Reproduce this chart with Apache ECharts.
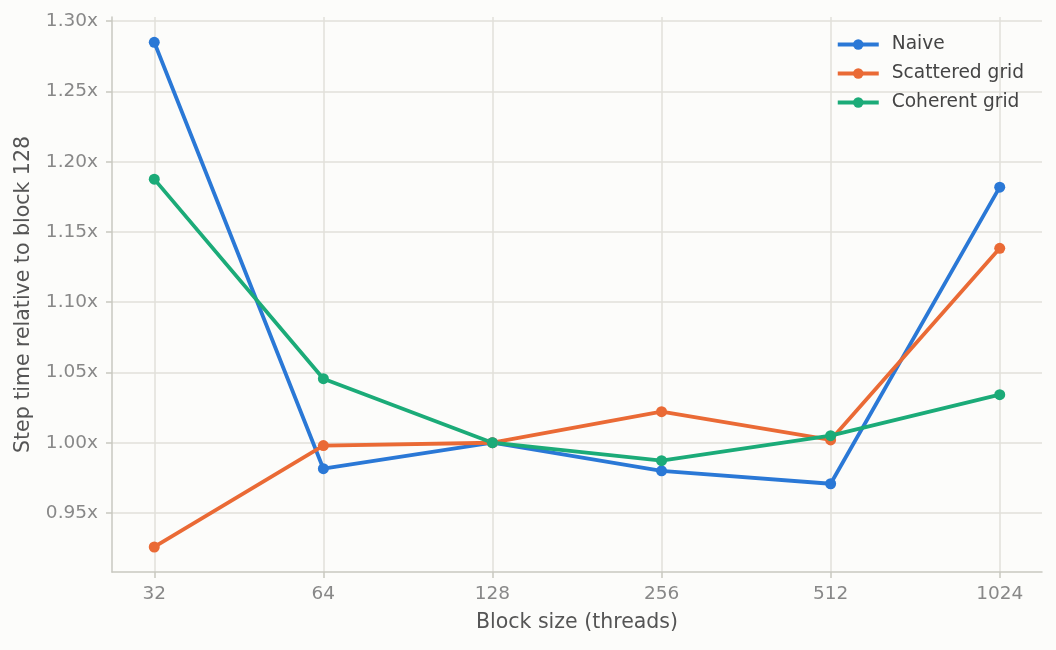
<!DOCTYPE html>
<html>
<head>
<meta charset="utf-8">
<script src="https://cdn.jsdelivr.net/npm/echarts@6/dist/echarts.min.js"></script>
<style>
  html, body { margin: 0; padding: 0; background: #fcfcfa; }
  #chart { width: 1056px; height: 650px; }
</style>
</head>
<body>
<div id="chart"></div>
<script>
// block sizes (threads)
var blockSizes = ['32', '64', '128', '256', '512', '1024'];
// step time relative to block 128
var naive = [1.285, 0.9815, 1.000, 0.980, 0.9708, 1.1819];
var scattered = [0.9258, 0.998, 1.000, 1.0221, 1.002, 1.1384];
var coherent = [1.1876, 1.0456, 1.000, 0.9872, 1.005, 1.0342];
var yTicks = [0.95, 1.00, 1.05, 1.10, 1.15, 1.20, 1.25, 1.30];

var font = 'DejaVu Sans';
var xIdx = blockSizes.map(function (b, i) { return i; });

function pairs(vals) {
    return vals.map(function (v, i) { return [i, v]; });
}

function line(name, vals, color) {
    return {
        name: name,
        type: 'line',
        data: pairs(vals),
        symbol: 'circle',
        symbolSize: 11,
        lineStyle: { width: 3.8, color: color },
        itemStyle: { color: color },
        emphasis: { disabled: true }
    };
}

var chart = echarts.init(document.getElementById('chart'));
chart.setOption({
    backgroundColor: '#fcfcfa',
    animation: false,
    textStyle: { fontFamily: font },
    grid: { left: 112, right: 14, top: 17, bottom: 78 },
    legend: {
        top: 30,
        right: 27,
        orient: 'vertical',
        itemGap: 10,
        itemWidth: 41,
        itemHeight: 13,
        lineStyle: { width: 4 },
        textStyle: { fontFamily: font, fontSize: 18.6, color: '#444', padding: [0, 0, 0, 8] },
        data: ['Naive', 'Scattered grid', 'Coherent grid']
    },
    xAxis: {
        type: 'value',
        min: -0.25,
        max: 5.25,
        name: 'Block size (threads)',
        nameLocation: 'middle',
        nameGap: 40,
        nameTextStyle: { fontFamily: font, fontSize: 20.5, color: '#555' },
        axisLine: { show: true, onZero: false, lineStyle: { color: '#c8c8c0', width: 1.5 } },
        axisTick: { show: true, customValues: xIdx, length: 6, lineStyle: { color: '#c8c8c0', width: 1.5 } },
        axisLabel: {
            customValues: xIdx,
            margin: 13,
            fontSize: 18.5,
            color: '#888',
            formatter: function (v) { return blockSizes[Math.round(v)]; }
        },
        splitLine: { show: true, lineStyle: { color: '#e2e1da', width: 1.5 } }
    },
    yAxis: {
        type: 'value',
        min: 0.908,
        max: 1.303,
        name: 'Step time relative to block 128',
        nameLocation: 'middle',
        nameGap: 78,
        nameTextStyle: { fontFamily: font, fontSize: 20.5, color: '#555' },
        axisLine: { show: true, onZero: false, lineStyle: { color: '#c8c8c0', width: 1.5 } },
        axisTick: { show: true, customValues: yTicks, length: 6, lineStyle: { color: '#c8c8c0', width: 1.5 } },
        axisLabel: {
            customValues: yTicks,
            margin: 14,
            fontSize: 18.5,
            color: '#888',
            formatter: function (v) { return v.toFixed(2) + 'x'; }
        },
        splitLine: { show: true, lineStyle: { color: '#e2e1da', width: 1.5 } }
    },
    series: [
        line('Naive', naive, '#2a78d6'),
        line('Scattered grid', scattered, '#ea6a35'),
        line('Coherent grid', coherent, '#1bab78')
    ]
});
</script>
</body>
</html>
